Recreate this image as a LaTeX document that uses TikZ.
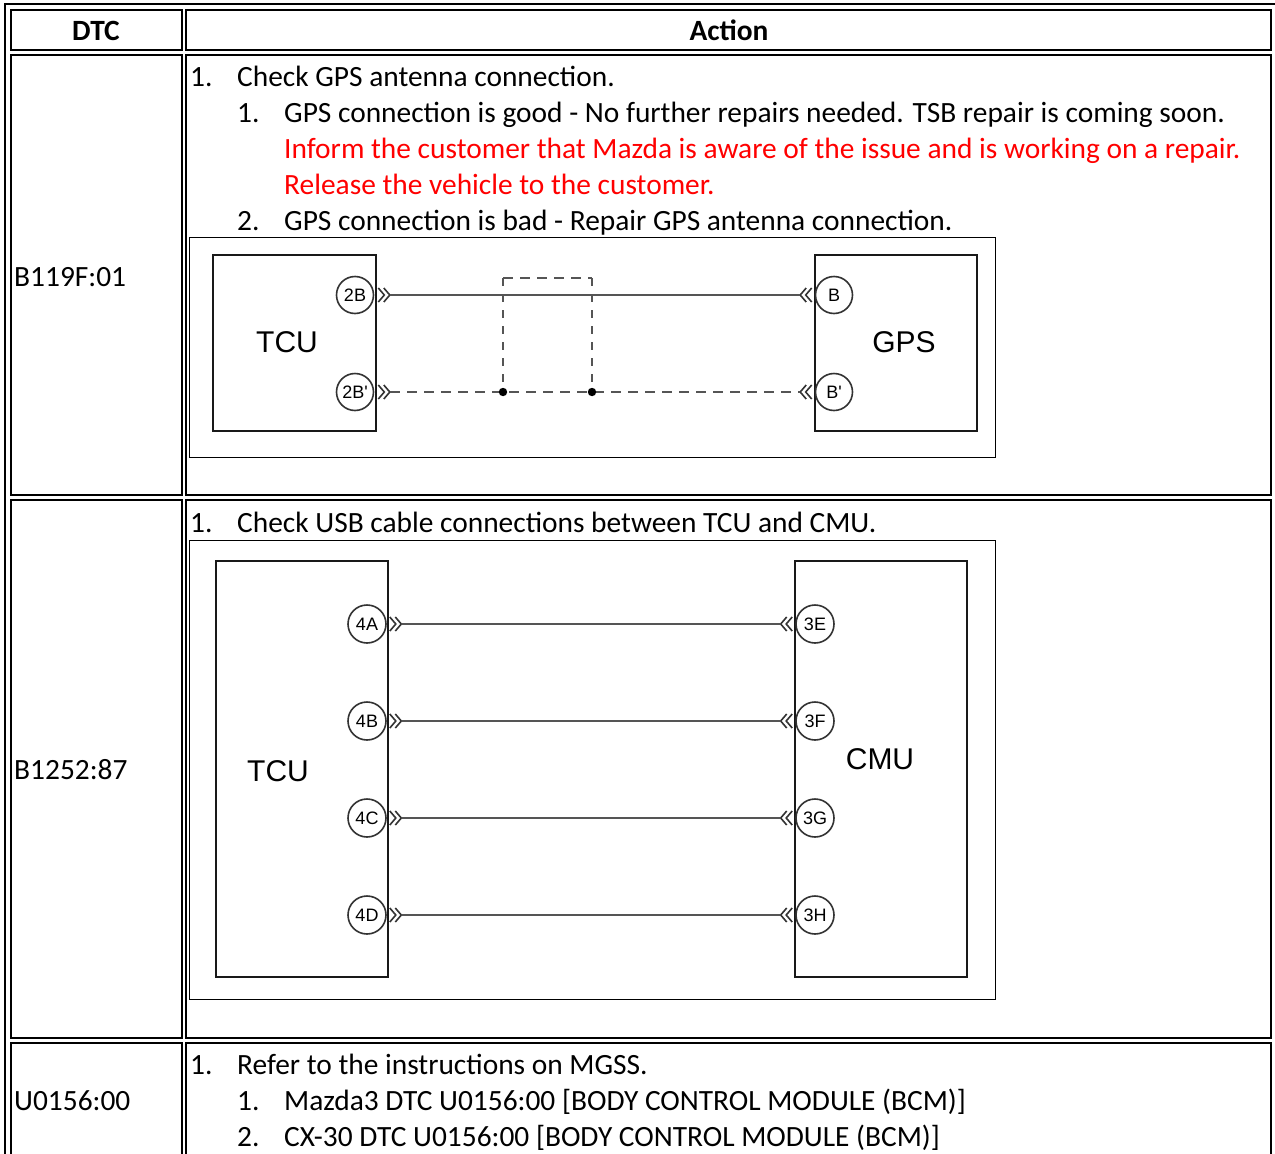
\documentclass[tikz,border=0pt]{standalone}
\usepackage{fontspec}
\setmainfont{Carlito}
\newfontfamily\diagfont{Liberation Sans}
\definecolor{wiregray}{HTML}{555555}
\definecolor{redtext}{HTML}{FF0000}
\tikzset{
  cell/.style={draw=black, line width=2pt},
  txt/.style={anchor=base west, inner sep=0pt, font=\fontsize{29.4}{34}\selectfont},
  hdr/.style={anchor=base, inner sep=0pt, font=\fontsize{29.4}{34}\selectfont\bfseries},
  frame/.style={draw=black, line width=1pt},
  unit/.style={draw=black!90, line width=2.7pt, inner sep=0pt},
  pin/.style={draw=black!80, circle, line width=1.6pt, inner sep=0pt, font=\diagfont\fontsize{18}{18}\selectfont},
  big/.style={inner sep=0pt, font=\diagfont\fontsize{30}{30}\selectfont},
  wire/.style={draw=wiregray, line width=2.2pt},
  dwire/.style={draw=wiregray, line width=2pt, dash pattern=on 10pt off 7pt},
  dbox/.style={draw=wiregray, line width=1.6pt},
  chev/.style={draw=black!80, line width=1.6pt},
  chevR/.pic={\draw[chev] (0,-7) -- (6,0) -- (0,7); \draw[chev] (5.5,-7) -- (11.5,0) -- (5.5,7);},
  chevL/.pic={\draw[chev] (0,-7) -- (-6,0) -- (0,7); \draw[chev] (-5.5,-7) -- (-11.5,0) -- (-5.5,7);},
}
\begin{document}
\begin{tikzpicture}[x=1pt,y=-1pt]
\useasboundingbox (0,0) rectangle (1275,1154);
\fill[white] (0,0) rectangle (1275,1154);
% table frame
\draw[cell] (5,4) rectangle (1285,1170);
\draw[cell] (11,10) rectangle (181.5,50);
\draw[cell] (185.5,10) rectangle (1271,50);
\draw[cell] (11,55) rectangle (181.5,495);
\draw[cell] (185.5,55) rectangle (1271,495);
\draw[cell] (11,500) rectangle (181.5,1037.5);
\draw[cell] (185.5,500) rectangle (1271,1037.5);
\draw[cell] (11,1042.5) rectangle (181.5,1170);
\draw[cell] (185.5,1042.5) rectangle (1271,1170);
% headers
\node[hdr] (hdtc) at (96,40) {DTC};
\node[hdr] (hact) at (729,40) {Action};
% DTC column
\node[txt] (d1) at (14,286) {B119F:01};
\node[txt] (d2) at (14,779) {B1252:87};
\node[txt] (d3) at (14,1110) {U0156:00};
% row 1 text
\node[txt] (r1n) at (190,86) {1.};
\node[txt] (r1t) at (237,86) {Check GPS antenna connection.};
\node[txt] (r1an) at (237,122) {1.};
\node[txt] (r1a) at (284,122) {GPS connection is good - No further repairs needed. TSB repair is coming soon.};
\node[txt, text=redtext] (r1b) at (284,158) {Inform the customer that Mazda is aware of the issue and is working on a repair.};
\node[txt, text=redtext] (r1c) at (284,194) {Release the vehicle to the customer.};
\node[txt] (r1dn) at (237,230) {2.};
\node[txt] (r1d) at (284,230) {GPS connection is bad - Repair GPS antenna connection.};
% row 2 text
\node[txt] (r2n) at (190,532) {1.};
\node[txt] (r2t) at (237,532) {Check USB cable connections between TCU and CMU.};
% row 3 text
\node[txt] (r3n) at (190,1074) {1.};
\node[txt] (r3t) at (237,1074) {Refer to the instructions on MGSS.};
\node[txt] (r3an) at (237,1110) {1.};
\node[txt] (r3a) at (284,1110) {Mazda3 DTC U0156:00 [BODY CONTROL MODULE (BCM)]};
\node[txt] (r3bn) at (237,1146) {2.};
\node[txt] (r3b) at (284,1146) {CX-30 DTC U0156:00 [BODY CONTROL MODULE (BCM)]};

% ===== diagram 1 =====
\draw[frame] (189,237.5) rectangle (995,457.5);
\node[unit, minimum width=163pt, minimum height=176pt] (tcuA) at (294.5,343) {};
\node[unit, minimum width=162pt, minimum height=176pt] (gps) at (896,343) {};
\node[big] (tcuAl) at (287,342) {TCU};
\node[big] (gpsl) at (904,342) {GPS};
\node[pin, minimum size=37pt] (p2B) at (355,295) {2B};
\node[pin, minimum size=37pt] (p2Bp) at (355,392) {2B'};
\node[pin, minimum size=37pt] (pB) at (834,295) {B};
\node[pin, minimum size=37pt] (pBp) at (834,392) {B'};
\pic at ([xshift=4pt]p2B.east) {chevR};
\pic at ([xshift=4pt]p2Bp.east) {chevR};
\pic at ([xshift=-3pt]pB.west) {chevL};
\pic at ([xshift=-3pt]pBp.west) {chevL};
\draw[wire] ([xshift=16pt]p2B.east) -- ([xshift=-15pt]pB.west);
\draw[dwire] ([xshift=16pt]p2Bp.east) -- ([xshift=-15pt]pBp.west);
\coordinate (jA) at (503,392);
\coordinate (jB) at (592,392);
\coordinate (kA) at (503,278);
\coordinate (kB) at (592,278);
\draw[dbox, dash pattern=on 10pt off 7pt] (kA) -- (kB);
\draw[dbox, dash pattern=on 8pt off 8pt] (kA) -- (jA);
\draw[dbox, dash pattern=on 8pt off 8pt] (kB) -- (jB);
\fill[black] (jA) circle (4.2pt);
\fill[black] (jB) circle (4.2pt);

% ===== diagram 2 =====
\draw[frame] (189,540.5) rectangle (995,999.5);
\node[unit, minimum width=172pt, minimum height=416pt] (tcuB) at (302,769) {};
\node[unit, minimum width=172pt, minimum height=416pt] (cmu) at (881,769) {};
\node[big] (tcuBl) at (278,771) {TCU};
\node[big] (cmul) at (880,759) {CMU};
\foreach \n/\m/\y in {4A/3E/624, 4B/3F/721, 4C/3G/818, 4D/3H/915}{
  \node[pin, minimum size=38pt] (q\n) at (367,\y) {\n};
  \node[pin, minimum size=38pt] (q\m) at (815,\y) {\m};
  \pic at ([xshift=3pt]q\n.east) {chevR};
  \pic at ([xshift=-3pt]q\m.west) {chevL};
  \draw[wire] ([xshift=15pt]q\n.east) -- ([xshift=-15pt]q\m.west);
}
\end{tikzpicture}
\end{document}
